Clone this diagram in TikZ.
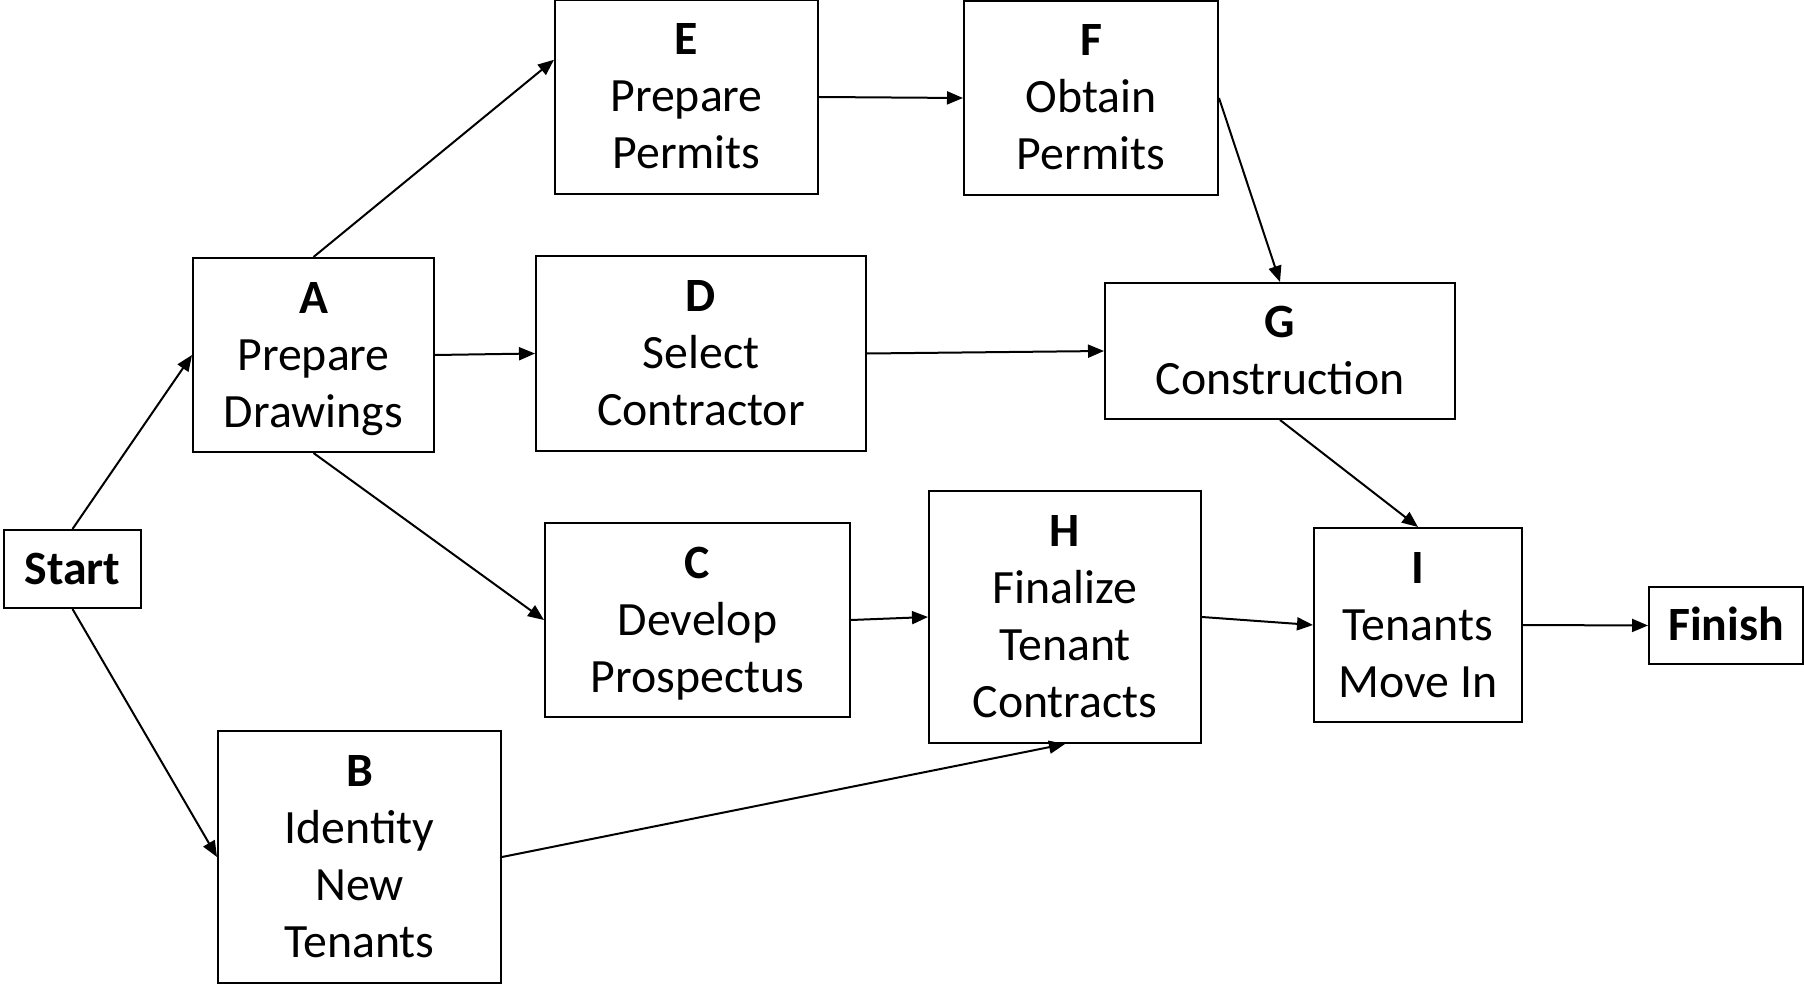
\documentclass[tikz,border=0pt]{standalone}
\usepackage{fontspec}
\setmainfont{Carlito}
\usetikzlibrary{arrows.meta,calc}
% uniform line box so single and multi-line labels centre alike
\newcommand\lnstrut{\rule[-10pt]{0pt}{50pt}}
\begin{document}
\begin{tikzpicture}[x=1pt,y=-1pt,
  box/.style={draw, line width=2pt, inner sep=0pt, align=center,
              font=\fontsize{47.8}{57}\selectfont},
  link/.style={line width=2pt, -{Triangle[length=16pt,width=13pt]}}]
\useasboundingbox (0,0) rectangle (1804,984);

% activities
\node[box, minimum width=137pt, minimum height=78pt] (start) at (72.5,569)
  {\lnstrut\textbf{Start}};
\node[box, minimum width=241pt, minimum height=194pt] (A) at (313.5,355)
  {\lnstrut\textbf{A}\\\lnstrut Prepare\\\lnstrut Drawings};
\node[box, minimum width=283pt, minimum height=252pt] (B) at (359.5,857)
  {\lnstrut\textbf{B}\\\lnstrut Identity\\\lnstrut New\\\lnstrut Tenants};
\node[box, minimum width=305pt, minimum height=194pt] (C) at (697.5,620)
  {\lnstrut\textbf{C}\\\lnstrut Develop\\\lnstrut Prospectus};
\node[box, minimum width=330pt, minimum height=195pt] (D) at (701,353.5)
  {\lnstrut\textbf{D}\\\lnstrut Select\\\lnstrut Contractor};
\node[box, minimum width=263pt, minimum height=194pt] (E) at (686.5,97)
  {\lnstrut\textbf{E}\\\lnstrut Prepare\\\lnstrut Permits};
\node[box, minimum width=254pt, minimum height=194pt] (F) at (1091,98)
  {\lnstrut\textbf{F}\\\lnstrut Obtain\\\lnstrut Permits};
\node[box, minimum width=350pt, minimum height=136pt] (G) at (1280,351)
  {\lnstrut\textbf{G}\\\lnstrut Construction};
\node[box, minimum width=272pt, minimum height=252pt] (H) at (1065,617)
  {\lnstrut\textbf{H}\\\lnstrut Finalize\\\lnstrut Tenant\\\lnstrut Contracts};
\node[box, minimum width=208pt, minimum height=194pt] (I) at (1418,625)
  {\lnstrut\textbf{I}\\\lnstrut Tenants\\\lnstrut Move In};
\node[box, minimum width=154pt, minimum height=77pt] (finish) at (1726,625.5)
  {\lnstrut\textbf{Finish}};

% entry point on the left side of E, above its middle
\coordinate (Ein) at ($(E.north west)!0.31!(E.south west)$);

% precedence links
\draw[link] (start.north) -- (A.west);
\draw[link] (start.south) -- (B.west);
\draw[link] (A.north) -- (Ein);
\draw[link] (A.east) -- (D.west);
\draw[link] (A.south) -- (C.west);
\draw[link] (E.east) -- (F.west);
\draw[link] (F.east) -- (G.north);
\draw[link] (D.east) -- (G.west);
\draw[link] (G.south) -- (I.north);
\draw[link] (C.east) -- (H.west);
\draw[link] (B.east) -- (H.south);
\draw[link] (H.east) -- (I.west);
\draw[link] (I.east) -- (finish.west);
\end{tikzpicture}
\end{document}
